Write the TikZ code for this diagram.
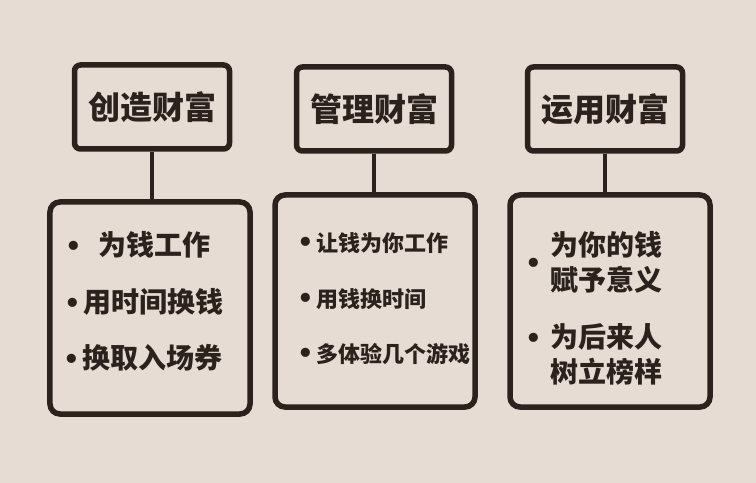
\documentclass[tikz,border=0pt]{standalone}
\usepackage{fontspec}
\newfontfamily\cjk{Noto Sans CJK SC}
\newfontfamily\dejavu{DejaVu Sans}
\definecolor{bgc}{HTML}{E7DCD3}
\definecolor{ink}{HTML}{2B211D}
\newcommand{\bul}{{\dejavu\fontsize{26bp}{26bp}\selectfont •}}
\tikzset{
  titlebox/.style={draw=ink, line width=5.5bp, rounded corners=6bp, minimum width=155bp, minimum height=84bp, inner sep=0pt, font=\cjk\bfseries\fontsize{32bp}{34bp}\selectfont, text=ink},
  listbox/.style={draw=ink, line width=5.5bp, rounded corners=10bp, minimum width=200bp, minimum height=212bp, inner sep=0pt},
  item/.style={anchor=west, inner sep=0pt, text=ink, align=left},
  itemL/.style={item, font=\cjk\bfseries\fontsize{28bp}{30bp}\selectfont},
  itemM/.style={item, font=\cjk\bfseries\fontsize{22bp}{30bp}\selectfont},
  itemR/.style={item, font=\cjk\bfseries\fontsize{28bp}{35bp}\selectfont},
  link/.style={draw=ink, line width=3.5bp}
}
\begin{document}
\begin{tikzpicture}[x=1bp,y=-1bp]
\fill[bgc] (0,0) rectangle (756,483);
\useasboundingbox (0,0) rectangle (756,483);
% titles
\node[titlebox] (t1) at (152,107) {创造财富};
\node[titlebox] (t2) at (374,109) {管理财富};
\node[titlebox] (t3) at (605,109) {运用财富};
% list boxes
\node[listbox] (b1) at (150,308) {};
\node[listbox] (b2) at (375,301) {};
\node[listbox] (b3) at (610,301) {};
% connectors
\draw[link] (t1.south) -- (t1.south |- b1.north);
\draw[link] (t2.south) -- (t2.south |- b2.north);
\draw[link] (t3.south) -- (t3.south |- b3.north);
% items left
\node[itemL] (l1) at (65,245) {\bul\hspace{17bp}为钱工作};
\node[itemL] (l2) at (64,302) {\bul\hspace{3bp}用时间换钱};
\node[itemL] (l3) at (63,358) {\bul\hspace{3bp}换取入场券};
% items middle
\node[itemM] (m1) at (297,243) {\bul\hspace{3bp}让钱为你工作};
\node[itemM] (m2) at (297,299) {\bul\hspace{3bp}用钱换时间};
\node[itemM] (m3) at (297,354) {\bul\hspace{3bp}多体验几个游戏};
% items right
\node[itemR] (r1) at (525,266) {\bul\hspace{9bp}\begin{tabular}{@{}l@{}}为你的钱\\赋予意义\end{tabular}};
\node[itemR, anchor=base west] (r2) at (525,347) {\bul\hspace{9bp}\begin{tabular}[t]{@{}l@{}}为后来人\\树立榜样\end{tabular}};
\end{tikzpicture}
\end{document}
